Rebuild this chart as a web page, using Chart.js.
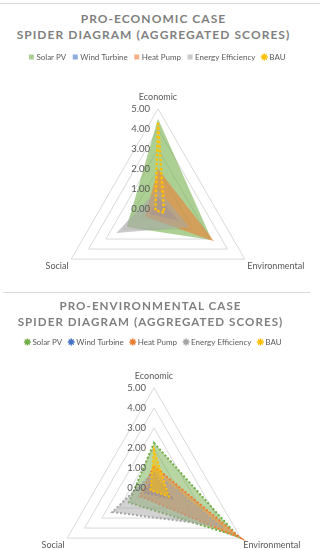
<!DOCTYPE html>
<html lang="en">
<head>
    <meta charset="UTF-8">
    <title>Spider diagrams</title>
    <script src="https://cdn.jsdelivr.net/npm/chart.js"></script>
    <style>
        html, body {
            margin: 0;
            padding: 0;
            width: 327px;
            height: 550px;
            overflow: hidden;
            background: #fff;
            font-family: Lato, "Open Sans", sans-serif;
        }
        .rule {
            position: absolute;
            height: 0;
            border-top: 1px solid #d9d9d9;
        }
        .title {
            position: absolute;
            left: 0;
            width: 307px;
            text-align: center;
            font-weight: bold;
            font-size: 12px;
            letter-spacing: 1.05px;
            color: #7f7f7f;
            line-height: 16px;
            white-space: nowrap;
        }
        canvas {
            position: absolute;
        }
    </style>
</head>
<body>
    <div class="rule" style="top:3px;left:0;width:320px"></div>
    <div class="title" style="top:11px">PRO-ECONOMIC CASE<br>SPIDER DIAGRAM (AGGREGATED SCORES)</div>
    <canvas id="ecoChart" width="356" height="273" style="left:-20px;top:45px"></canvas>

    <div class="rule" style="top:292px;left:3px;width:307px"></div>
    <div class="title" style="top:298px;width:301px;font-size:11.6px">PRO-ENVIRONMENTAL CASE<br>SPIDER DIAGRAM (AGGREGATED SCORES)</div>
    <canvas id="envChart" width="356" height="267" style="left:-24px;top:330px"></canvas>

    <script>
        // axes of the spider, clockwise from the top
        const criteria = ['Economic', 'Environmental', 'Social'];
        const options_ = ['Solar PV', 'Wind Turbine', 'Heat Pump', 'Energy Efficiency', 'BAU'];
        const colours = ['#70ad47', '#4472c4', '#ed7d31', '#a5a5a5', '#ffc000'];
        const tickValues = [0, 1, 2, 3, 4, 5];

        // pro-economic weighting
        const ecoSolar = [4.5, 3.1, 1.8];
        const ecoWind = [0.6, 1.2, 0.5];
        const ecoHeat = [2.0, 3.25, 0.75];
        const ecoEfficiency = [1.0, 1.8, 2.4];
        const ecoBau = [4.3, 0.35, 0.15];

        // pro-environmental weighting
        const envSolar = [2.25, 4.85, 1.45];
        const envWind = [0.7, 1.0, 0.5];
        const envHeat = [1.1, 5.0, 0.8];
        const envEfficiency = [0.8, 3.8, 2.4];
        const envBau = [1.9, 0.85, 0.2];

        function rgba(hex, a) {
            const n = parseInt(hex.slice(1), 16);
            return `rgba(${n >> 16}, ${(n >> 8) & 255}, ${n & 255}, ${a})`;
        }

        // extra room between legend and plot
        function legendGap(gap) {
            return {
                id: 'legendGap',
                beforeInit(chart) {
                    const fit = chart.legend.fit;
                    chart.legend.fit = function () {
                        fit.bind(chart.legend)();
                        this.height += gap;
                    };
                }
            };
        }

        // Excel puts the value labels left of the vertical axis
        const sideTicks = {
            id: 'sideTicks',
            afterDatasetsDraw(chart) {
                const scale = chart.scales.r;
                const ctx = chart.ctx;
                ctx.save();
                ctx.font = '9.5px Lato, sans-serif';
                ctx.fillStyle = '#595959';
                ctx.textAlign = 'right';
                ctx.textBaseline = 'middle';
                tickValues.forEach(v => {
                    const p = scale.getPointPositionForValue(0, v);
                    ctx.fillText(v.toFixed(2), p.x - 8, p.y);
                });
                ctx.restore();
            }
        };

        function makeChart(id, series, dotted, gap) {
            const datasets = series.map((values, i) => {
                const isBau = i === 4;
                const ds = {
                    label: options_[i],
                    data: values,
                    order: 10 - i,
                    pointRadius: 0,
                    pointHoverRadius: 0,
                    borderColor: colours[i],
                    backgroundColor: rgba(colours[i], dotted ? 0.5 : 0.58),
                    fill: true,
                    borderWidth: 0
                };
                if (dotted) {
                    ds.borderWidth = 2;
                    ds.borderDash = [2, 2];
                } else if (isBau) {
                    ds.fill = false;
                    ds.backgroundColor = 'rgba(0,0,0,0)';
                    ds.borderWidth = 2.5;
                    ds.borderDash = [2.5, 2];
                }
                return ds;
            });

            return new Chart(document.getElementById(id), {
                type: 'radar',
                data: { labels: criteria, datasets: datasets },
                options: {
                    responsive: false,
                    animation: false,
                    devicePixelRatio: 1,
                    layout: { padding: 0 },
                    plugins: {
                        tooltip: { enabled: false },
                        legend: {
                            position: 'top',
                            labels: {
                                usePointStyle: true,
                                boxWidth: 2,
                                boxHeight: 5,
                                padding: 8,
                                color: '#595959',
                                font: { family: 'Lato, sans-serif', size: 8 },
                                generateLabels(chart) {
                                    return chart.data.datasets.map((ds, i) => {
                                        const star = dotted || i === 4;
                                        return {
                                            text: ds.label,
                                            datasetIndex: i,
                                            hidden: false,
                                            fontColor: '#595959',
                                            pointStyle: star ? 'star' : 'rect',
                                            fillStyle: star ? colours[i] : rgba(colours[i], 0.6),
                                            strokeStyle: colours[i],
                                            lineWidth: star ? 1.5 : 0
                                        };
                                    });
                                }
                            }
                        }
                    },
                    scales: {
                        r: {
                            min: 0,
                            max: 5,
                            ticks: { stepSize: 1, display: false },
                            grid: { color: '#d9d9d9', lineWidth: 1 },
                            angleLines: { display: false },
                            pointLabels: {
                                color: '#595959',
                                font: { family: 'Lato, sans-serif', size: 9 },
                                padding: ctx => ctx.index === 0 ? 6 : 3
                            }
                        }
                    }
                },
                plugins: [legendGap(gap), sideTicks]
            });
        }

        makeChart('ecoChart', [ecoSolar, ecoWind, ecoHeat, ecoEfficiency, ecoBau], false, 13);
        makeChart('envChart', [envSolar, envWind, envHeat, envEfficiency, envBau], true, 7);
    </script>
</body>
</html>
